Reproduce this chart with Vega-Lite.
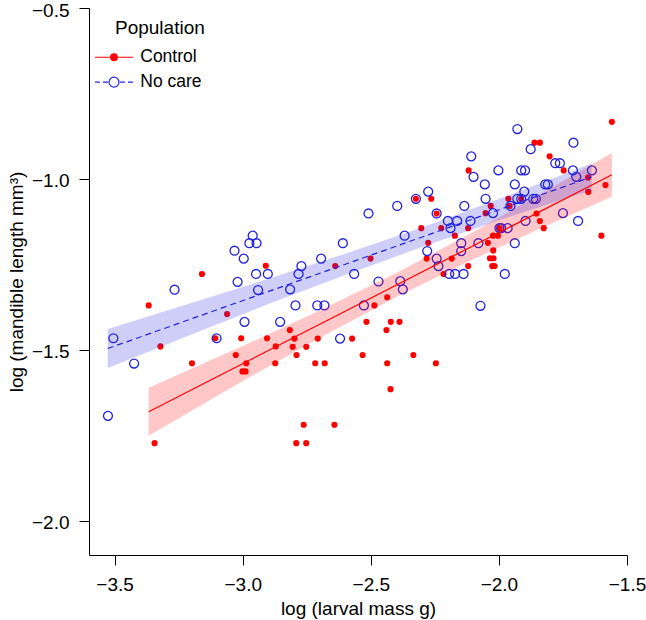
{
  "$schema": "https://vega.github.io/schema/vega-lite/v6.json",
  "width": 538,
  "height": 547,
  "autosize": {"type": "none"},
  "padding": {"left": 89, "top": 8, "right": 19, "bottom": 65},
  "background": "white",
  "config": {
    "font": "Liberation Sans",
    "view": {"stroke": null},
    "axis": {
      "domainColor": "black", "domainWidth": 1, "tickColor": "black", "tickWidth": 1, "tickSize": 10,
      "labelColor": "black", "labelFontSize": 19, "titleColor": "black", "titleFontSize": 19,
      "titleFontWeight": "normal", "grid": false, "labelFlush": false, "labelOverlap": false, "labelBound": false
    }
  },
  "datasets": {
    "control": [
      {"x":-3.344,"y":-1.773},{"x":-3.367,"y":-1.370},{"x":-3.321,"y":-1.490},{"x":-3.198,"y":-1.539},{"x":-3.159,"y":-1.278},
      {"x":-3.107,"y":-1.466},{"x":-3.061,"y":-1.395},{"x":-3.027,"y":-1.515},{"x":-3.006,"y":-1.466},{"x":-3.001,"y":-1.563},
      {"x":-2.989,"y":-1.563},{"x":-2.986,"y":-1.539},{"x":-2.910,"y":-1.254},{"x":-2.905,"y":-1.466},{"x":-2.873,"y":-1.539},
      {"x":-2.871,"y":-1.490},{"x":-2.816,"y":-1.442},{"x":-2.805,"y":-1.491},{"x":-2.798,"y":-1.467},{"x":-2.790,"y":-1.515},
      {"x":-2.752,"y":-1.491},{"x":-2.717,"y":-1.539},{"x":-2.707,"y":-1.467},{"x":-2.680,"y":-1.539},{"x":-2.791,"y":-1.773},
      {"x":-2.752,"y":-1.773},{"x":-2.762,"y":-1.719},{"x":-2.642,"y":-1.719},{"x":-2.639,"y":-1.255},{"x":-2.573,"y":-1.467},
      {"x":-2.532,"y":-1.515},{"x":-2.517,"y":-1.418},{"x":-2.501,"y":-1.233},{"x":-2.486,"y":-1.370},{"x":-2.436,"y":-1.346},
      {"x":-2.439,"y":-1.442},{"x":-2.436,"y":-1.539},{"x":-2.423,"y":-1.615},{"x":-2.422,"y":-1.418},{"x":-2.388,"y":-1.418},
      {"x":-2.334,"y":-1.515},{"x":-2.246,"y":-1.539},{"x":-2.324,"y":-1.058},{"x":-2.264,"y":-1.058},{"x":-2.243,"y":-1.101},
      {"x":-2.303,"y":-1.144},{"x":-2.225,"y":-1.144},{"x":-2.172,"y":-1.166},{"x":-2.276,"y":-1.187},{"x":-2.282,"y":-1.233},
      {"x":-2.184,"y":-1.233},{"x":-2.216,"y":-1.278},{"x":-2.118,"y":-0.975},{"x":-2.120,"y":-1.144},{"x":-2.120,"y":-1.255},
      {"x":-2.052,"y":-1.100},{"x":-2.043,"y":-1.187},{"x":-2.032,"y":-1.079},{"x":-2.023,"y":-1.166},{"x":-2.004,"y":-1.166},
      {"x":-1.998,"y":-1.144},{"x":-2.022,"y":-1.209},{"x":-2.035,"y":-1.232},{"x":-2.021,"y":-1.232},{"x":-2.026,"y":-1.255},
      {"x":-2.017,"y":-1.255},{"x":-1.963,"y":-1.058},{"x":-1.958,"y":-1.079},{"x":-1.913,"y":-1.058},{"x":-1.861,"y":-0.894},
      {"x":-1.840,"y":-0.894},{"x":-1.802,"y":-0.934},{"x":-1.853,"y":-1.101},{"x":-1.840,"y":-1.123},{"x":-1.825,"y":-1.144},
      {"x":-1.747,"y":-0.975},{"x":-1.652,"y":-0.996},{"x":-1.651,"y":-1.038},{"x":-1.600,"y":-1.166},{"x":-1.584,"y":-1.018},
      {"x":-1.559,"y":-0.833}
    ],
    "nocare": [
      {"x":-3.526,"y":-1.693},{"x":-3.505,"y":-1.466},{"x":-3.424,"y":-1.540},{"x":-3.266,"y":-1.324},{"x":-3.102,"y":-1.466},
      {"x":-3.032,"y":-1.210},{"x":-3.020,"y":-1.301},{"x":-2.996,"y":-1.233},{"x":-2.993,"y":-1.418},{"x":-2.974,"y":-1.188},
      {"x":-2.961,"y":-1.166},{"x":-2.946,"y":-1.188},{"x":-2.948,"y":-1.278},{"x":-2.940,"y":-1.325},{"x":-2.902,"y":-1.278},
      {"x":-2.854,"y":-1.418},{"x":-2.815,"y":-1.323},{"x":-2.794,"y":-1.370},{"x":-2.782,"y":-1.278},{"x":-2.771,"y":-1.255},
      {"x":-2.709,"y":-1.370},{"x":-2.681,"y":-1.370},{"x":-2.694,"y":-1.233},{"x":-2.620,"y":-1.467},{"x":-2.609,"y":-1.188},
      {"x":-2.565,"y":-1.278},{"x":-2.527,"y":-1.370},{"x":-2.509,"y":-1.101},{"x":-2.470,"y":-1.300},{"x":-2.397,"y":-1.079},
      {"x":-2.385,"y":-1.299},{"x":-2.375,"y":-1.323},{"x":-2.368,"y":-1.166},{"x":-2.324,"y":-1.058},{"x":-2.276,"y":-1.037},
      {"x":-2.243,"y":-1.101},{"x":-2.280,"y":-1.211},{"x":-2.243,"y":-1.233},{"x":-2.236,"y":-1.255},{"x":-2.199,"y":-1.123},
      {"x":-2.163,"y":-1.123},{"x":-2.189,"y":-1.144},{"x":-2.147,"y":-1.188},{"x":-2.147,"y":-1.211},{"x":-2.194,"y":-1.278},
      {"x":-2.171,"y":-1.278},{"x":-2.138,"y":-1.278},{"x":-2.135,"y":-1.079},{"x":-2.108,"y":-0.934},{"x":-2.099,"y":-0.994},
      {"x":-2.111,"y":-1.123},{"x":-2.080,"y":-1.188},{"x":-2.072,"y":-1.371},{"x":-2.055,"y":-1.016},{"x":-2.052,"y":-1.058},
      {"x":-2.023,"y":-1.100},{"x":-2.002,"y":-0.975},{"x":-1.998,"y":-1.144},{"x":-1.991,"y":-1.144},{"x":-1.966,"y":-1.144},
      {"x":-1.977,"y":-1.278},{"x":-1.955,"y":-1.079},{"x":-1.938,"y":-1.016},{"x":-1.938,"y":-1.188},{"x":-1.928,"y":-0.854},
      {"x":-1.928,"y":-1.058},{"x":-1.913,"y":-1.058},{"x":-1.913,"y":-0.975},{"x":-1.898,"y":-0.975},{"x":-1.901,"y":-1.037},
      {"x":-1.896,"y":-1.123},{"x":-1.876,"y":-0.913},{"x":-1.866,"y":-1.058},{"x":-1.856,"y":-1.058},{"x":-1.819,"y":-1.016},
      {"x":-1.809,"y":-1.016},{"x":-1.780,"y":-0.954},{"x":-1.762,"y":-0.954},{"x":-1.750,"y":-1.100},{"x":-1.711,"y":-0.975},
      {"x":-1.709,"y":-0.894},{"x":-1.698,"y":-0.994},{"x":-1.691,"y":-1.123},{"x":-1.637,"y":-0.975}
    ],
    "band": [
      {"pop":"Control","x":-3.367,"lo":-1.751,"hi":-1.611},
      {"pop":"Control","x":-3.0,"lo":-1.591,"hi":-1.489},
      {"pop":"Control","x":-2.7,"lo":-1.465,"hi":-1.385},
      {"pop":"Control","x":-2.4,"lo":-1.345,"hi":-1.275},
      {"pop":"Control","x":-2.1,"lo":-1.235,"hi":-1.155},
      {"pop":"Control","x":-1.8,"lo":-1.132,"hi":-1.028},
      {"pop":"Control","x":-1.559,"lo":-1.052,"hi":-0.924},
      {"pop":"No care","x":-3.527,"lo":-1.553,"hi":-1.439},
      {"pop":"No care","x":-3.2,"lo":-1.455,"hi":-1.363},
      {"pop":"No care","x":-2.9,"lo":-1.366,"hi":-1.292},
      {"pop":"No care","x":-2.6,"lo":-1.281,"hi":-1.219},
      {"pop":"No care","x":-2.3,"lo":-1.199,"hi":-1.142},
      {"pop":"No care","x":-2.0,"lo":-1.121,"hi":-1.059},
      {"pop":"No care","x":-1.638,"lo":-1.033,"hi":-0.955}
    ],
    "fit": [
      {"pop":"Control","x":-3.367,"y":-1.681},
      {"pop":"Control","x":-1.559,"y":-0.988},
      {"pop":"No care","x":-3.527,"y":-1.496},
      {"pop":"No care","x":-1.638,"y":-0.994}
    ]
  },
  "layer": [
    {
      "data": {"name": "control"},
      "mark": {"type": "point", "filled": true, "shape": "circle", "size": 38, "color": "#FF0000", "opacity": 1},
      "encoding": {
        "x": {"field": "x", "type": "quantitative",
              "scale": {"domain": [-3.6, -1.5], "nice": false, "zero": false},
              "axis": {"title": "log (larval mass g)", "values": [-3.5, -3, -2.5, -2, -1.5], "format": ".1f",
                       "labelBaseline": "alphabetic", "labelPadding": 25, "titleBaseline": "alphabetic", "titleY": 59.5}},
        "y": {"field": "y", "type": "quantitative",
              "scale": {"domain": [-2.1, -0.5], "nice": false, "zero": false},
              "axis": {"title": "log (mandible length mm³)", "values": [-2, -1.5, -1, -0.5], "format": ".1f",
                       "labelPadding": 10, "labelBaseline": "middle", "labelOffset": 2, "titleX": -73, "titleBaseline": "middle", "titleAngle": -90}}
      }
    },
    {
      "data": {"name": "nocare"},
      "mark": {"type": "point", "filled": false, "shape": "circle", "size": 80, "color": "#2222DD", "strokeWidth": 1.3, "opacity": 1},
      "encoding": {
        "x": {"field": "x", "type": "quantitative"},
        "y": {"field": "y", "type": "quantitative"}
      }
    },
    {
      "data": {"name": "band"},
      "transform": [{"filter": "datum.pop === 'Control'"}],
      "mark": {"type": "area", "fillOpacity": 0.22, "color": "#FF0000"},
      "encoding": {
        "x": {"field": "x", "type": "quantitative"},
        "y": {"field": "lo", "type": "quantitative"},
        "y2": {"field": "hi"}
      }
    },
    {
      "data": {"name": "band"},
      "transform": [{"filter": "datum.pop === 'No care'"}],
      "mark": {"type": "area", "fillOpacity": 0.22, "color": "#2222DD"},
      "encoding": {
        "x": {"field": "x", "type": "quantitative"},
        "y": {"field": "lo", "type": "quantitative"},
        "y2": {"field": "hi"}
      }
    },
    {
      "data": {"name": "fit"},
      "transform": [{"filter": "datum.pop === 'No care'"}],
      "mark": {"type": "line", "strokeWidth": 1.2, "strokeDash": [6, 4], "color": "#2222DD"},
      "encoding": {
        "x": {"field": "x", "type": "quantitative"},
        "y": {"field": "y", "type": "quantitative"}
      }
    },
    {
      "data": {"name": "fit"},
      "transform": [{"filter": "datum.pop === 'Control'"}],
      "mark": {"type": "line", "strokeWidth": 1.2},
      "encoding": {
        "x": {"field": "x", "type": "quantitative"},
        "y": {"field": "y", "type": "quantitative"},
        "stroke": {"field": "pop", "type": "nominal",
                   "scale": {"domain": ["Control", "No care"], "range": ["#FF0000", "#2222DD"]},
                   "legend": {
                     "title": "Population", "orient": "none", "legendX": 6, "legendY": 10.7, "padding": 0,
                     "titleFontSize": 19, "titleFontWeight": "normal", "titleColor": "black", "titlePadding": 10.8,
                     "labelFontSize": 17.5, "labelColor": "black", "labelOffset": 17.5, "symbolOffset": 10.25,
                     "symbolSize": 144, "symbolStrokeWidth": 1.2, "rowPadding": 5.9,
                     "encode": {
                       "title": {"update": {"dx": {"value": 20}}},
                       "symbols": {"update": {
                         "shape": {"signal": "datum.value === 'Control' ? 'M-3.17,0H3.17M0.55,0A0.55,0.55,0,1,1,-0.55,0A0.55,0.55,0,1,1,0.55,0Z' : 'M-3.17,0H-2.33M-1.83,0H-1M0.83,0A0.83,0.83,0,1,1,-0.83,0A0.83,0.83,0,1,1,0.83,0M1,0H1.83M2.33,0H3.17'"},
                         "fill": {"signal": "datum.value === 'Control' ? '#FF0000' : 'transparent'"},
                         "stroke": {"signal": "datum.value === 'Control' ? '#FF0000' : '#2222DD'"},
                         "strokeDash": {"value": []},
                         "strokeWidth": {"value": 1.2},
                         "opacity": {"value": 1}
                       }}
                     }
                   }}
      }
    }
  ]
}
